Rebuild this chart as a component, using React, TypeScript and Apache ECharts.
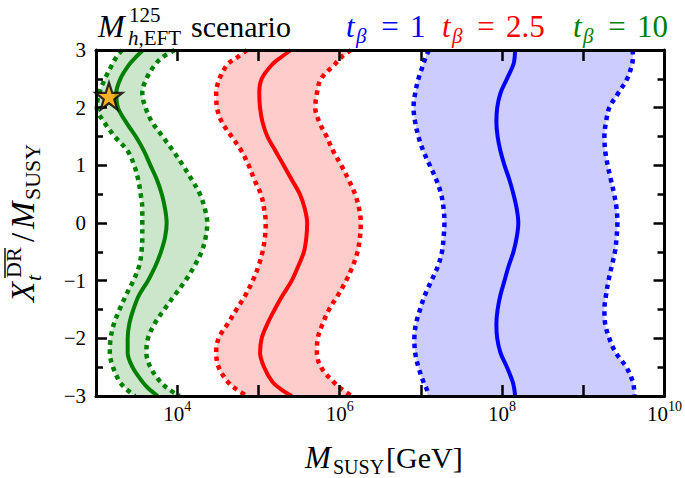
import React, { useEffect, useRef } from 'react';
import * as echarts from 'echarts';

// X_t^DR / M_SUSY sampling (y axis)
const xtValues = [3, 2.875, 2.75, 2.5, 2.25, 2, 1.75, 1.5, 1.25, 1, 0.75, 0.5, 0.25, 0, -0.25, -0.5, -0.75, -1, -1.25, -1.5, -1.75, -2, -2.25, -2.5, -2.75, -2.875, -3];

// log10(M_SUSY / GeV) for each curve
const tb1Center = [8.16, 8.155, 8.14, 8.06, 7.98, 7.94, 7.93, 7.945, 7.98, 8.03, 8.09, 8.14, 8.18, 8.2, 8.18, 8.14, 8.08, 8.03, 7.98, 7.945, 7.93, 7.94, 7.98, 8.06, 8.13, 8.15, 8.16];
const tb1Low = [7.1, 7.06, 7.03, 6.97, 6.93, 6.91, 6.93, 6.97, 7.03, 7.11, 7.19, 7.25, 7.28, 7.29, 7.28, 7.26, 7.21, 7.13, 7.05, 6.99, 6.94, 6.92, 6.93, 6.97, 7.03, 7.07, 7.1];
const tb1High = [9.61, 9.61, 9.6, 9.54, 9.43, 9.32, 9.28, 9.26, 9.27, 9.3, 9.34, 9.38, 9.41, 9.42, 9.41, 9.39, 9.35, 9.31, 9.28, 9.26, 9.27, 9.32, 9.4, 9.53, 9.61, 9.625, 9.63];

const tb25Center = [5.4, 5.28, 5.17, 5.04, 5.01, 5.02, 5.05, 5.11, 5.21, 5.31, 5.41, 5.51, 5.57, 5.6, 5.59, 5.56, 5.49, 5.41, 5.3, 5.2, 5.11, 5.04, 5.02, 5.07, 5.17, 5.27, 5.41];
const tb25Low = [4.86, 4.74, 4.62, 4.52, 4.48, 4.49, 4.55, 4.67, 4.79, 4.88, 4.95, 5.03, 5.07, 5.09, 5.08, 5.05, 5.0, 4.93, 4.84, 4.73, 4.62, 4.51, 4.48, 4.51, 4.62, 4.72, 4.86];
const tb25High = [6.14, 6.02, 5.94, 5.77, 5.72, 5.7, 5.75, 5.84, 5.92, 6.02, 6.11, 6.19, 6.24, 6.26, 6.25, 6.22, 6.16, 6.08, 5.98, 5.87, 5.79, 5.73, 5.72, 5.77, 5.92, 6.02, 6.15];

const tb10Center = [3.58, 3.49, 3.41, 3.3, 3.25, 3.27, 3.37, 3.49, 3.59, 3.67, 3.75, 3.81, 3.85, 3.87, 3.85, 3.8, 3.73, 3.64, 3.53, 3.46, 3.41, 3.39, 3.39, 3.45, 3.57, 3.65, 3.76];
const tb10Low = [3.32, 3.25, 3.2, 3.11, 3.04, 3.01, 3.1, 3.23, 3.39, 3.47, 3.52, 3.55, 3.57, 3.57, 3.57, 3.56, 3.53, 3.46, 3.37, 3.29, 3.22, 3.18, 3.17, 3.21, 3.29, 3.37, 3.48];
const tb10High = [3.97, 3.82, 3.73, 3.62, 3.57, 3.61, 3.69, 3.82, 3.95, 4.07, 4.18, 4.28, 4.34, 4.37, 4.35, 4.3, 4.21, 4.1, 3.97, 3.84, 3.72, 3.64, 3.62, 3.67, 3.79, 3.89, 4.03];

// benchmark point (log10 M_SUSY, X_t/M_SUSY)
const starPoint = [3.16, 2.2];

const legendLabels = ['1', '2.5', '10'];
const xTickExponents = [4, 6, 8, 10];

const SERIF = 'Liberation Serif';
const BLUE = '#0000ff';
const RED = '#ff0000';
const GREEN = '#008000';

const bands = [
  { low: tb1Low, mid: tb1Center, high: tb1High, line: BLUE, fill: 'rgba(0,0,255,0.2)' },
  { low: tb25Low, mid: tb25Center, high: tb25High, line: RED, fill: 'rgba(255,0,0,0.2)' },
  { low: tb10Low, mid: tb10Center, high: tb10High, line: GREEN, fill: 'rgba(0,128,0,0.2)' },
];

const toPairs = (arr: number[]) => arr.map((v, k) => [v, xtValues[k]]);

function txt(x: number, baseline: number, text: string, size: number, opts: any = {}) {
  return {
    type: 'text',
    x,
    y: baseline - 0.34 * size,
    silent: true,
    style: {
      text,
      fontSize: size,
      fontFamily: SERIF,
      fontStyle: opts.italic ? 'italic' : 'normal',
      fill: opts.color || '#000',
      align: opts.align || 'left',
      verticalAlign: 'middle',
    },
  };
}

function buildOption() {
  const series: any[] = [];
  series.push({
    type: 'custom',
    z: 1,
    clip: true,
    silent: true,
    data: bands.map((_, i) => [i]),
    renderItem: (params: any, api: any) => {
      const b = bands[params.dataIndex];
      const pts: number[][] = [];
      xtValues.forEach((y, k) => pts.push(api.coord([b.low[k], y])));
      for (let k = xtValues.length - 1; k >= 0; k--) pts.push(api.coord([b.high[k], xtValues[k]]));
      return {
        type: 'polygon',
        shape: { points: pts, smooth: 0.3 },
        style: { fill: b.fill, stroke: 'none' },
      };
    },
  });
  bands.forEach((b) => {
    [b.low, b.high].forEach((arr) => {
      series.push({
        type: 'line',
        data: toPairs(arr),
        smooth: 0.35,
        showSymbol: false,
        silent: true,
        z: 3,
        lineStyle: { color: b.line, width: 4.5, type: 'dotted', cap: 'butt' },
      });
    });
    series.push({
      type: 'line',
      data: toPairs(b.mid),
      smooth: 0.35,
      showSymbol: false,
      silent: true,
      z: 4,
      lineStyle: { color: b.line, width: 4, type: 'solid' },
    });
  });
  series.push({
    type: 'scatter',
    data: [starPoint],
    symbol: 'path://M50,0 L61.8,35.4 L99,35.4 L69,57.3 L80.4,92.7 L50,70.8 L19.6,92.7 L31,57.3 L1,35.4 L38.2,35.4 Z',
    symbolSize: 27,
    z: 30,
    clip: false,
    silent: true,
    itemStyle: { color: '#ffa500', borderColor: '#000', borderWidth: 2.2 },
  });

  const xCommon = {
    type: 'value',
    min: 3,
    max: 10,
    interval: 1,
    z: 10,
    splitLine: { show: false },
    axisLine: { show: true, onZero: false, lineStyle: { color: '#000', width: 3 } },
    axisTick: { show: true, inside: true, length: 11, lineStyle: { color: '#000', width: 2.5 } },
  };
  const yCommon = {
    type: 'value',
    min: -3,
    max: 3,
    interval: 1,
    z: 10,
    splitLine: { show: false },
    axisLine: { show: true, onZero: false, lineStyle: { color: '#000', width: 3 } },
    axisTick: { show: true, inside: true, length: 11, lineStyle: { color: '#000', width: 2.5 } },
    minorTick: { show: true, splitNumber: 2, length: 7, lineStyle: { color: '#000', width: 2.5 } },
    minorSplitLine: { show: false },
  };

  const graphic: any[] = [];
  // title
  graphic.push(txt(98, 37, 'M', 32, { italic: true }));
  graphic.push(txt(129, 22, '125', 21));
  graphic.push({
    type: 'text',
    x: 128,
    y: 45 - 0.34 * 21,
    silent: true,
    style: {
      text: '{i|h}{r|,EFT}',
      verticalAlign: 'middle',
      rich: {
        i: { fontSize: 21, fontFamily: SERIF, fontStyle: 'italic', fill: '#000' },
        r: { fontSize: 21, fontFamily: SERIF, fill: '#000' },
      },
    },
  });
  graphic.push(txt(191, 37, 'scenario', 30));
  // legend
  const legendX = [346, 442, 573];
  const legendColors = [BLUE, RED, GREEN];
  legendLabels.forEach((lab, i) => {
    const x0 = legendX[i];
    const c = legendColors[i];
    graphic.push(txt(x0, 37, 't', 31, { italic: true, color: c }));
    graphic.push(txt(x0 + 10, 43, 'β', 21, { italic: true, color: c }));
    graphic.push(txt(x0 + 44, 37, '=', 31, { color: c, align: 'center' }));
    graphic.push(txt(x0 + 64, 37, lab, 31, { color: c }));
  });
  // x axis title
  graphic.push(txt(305, 468, 'M', 31, { italic: true }));
  graphic.push(txt(333, 474, 'SUSY', 20));
  graphic.push(txt(386, 468, '[GeV]', 30));
  // y axis title (rotated)
  const ly = (baseline: number, size: number) => baseline - 0.34 * size;
  graphic.push({
    type: 'group',
    x: 34,
    y: 212,
    rotation: Math.PI / 2,
    silent: true,
    children: [
      { type: 'text', x: -90, y: ly(0, 33), style: { text: 'X', fontSize: 33, fontFamily: SERIF, fontStyle: 'italic', fill: '#000', verticalAlign: 'middle' } },
      { type: 'text', x: -66, y: ly(-13, 22), style: { text: 'DR', fontSize: 22, fontFamily: SERIF, fill: '#000', verticalAlign: 'middle' } },
      { type: 'line', shape: { x1: -66, y1: -29, x2: -36, y2: -29 }, style: { stroke: '#000', lineWidth: 1.4 } },
      { type: 'text', x: -69, y: ly(7, 22), style: { text: 't', fontSize: 22, fontFamily: SERIF, fontStyle: 'italic', fill: '#000', verticalAlign: 'middle' } },
      { type: 'text', x: -30, y: ly(0, 33), style: { text: '/', fontSize: 33, fontFamily: SERIF, fill: '#000', verticalAlign: 'middle' } },
      { type: 'text', x: -17, y: ly(0, 33), style: { text: 'M', fontSize: 33, fontFamily: SERIF, fontStyle: 'italic', fill: '#000', verticalAlign: 'middle' } },
      { type: 'text', x: 12, y: ly(6, 22), style: { text: 'SUSY', fontSize: 22, fontFamily: SERIF, fill: '#000', verticalAlign: 'middle' } },
    ],
  });

  return {
    animation: false,
    backgroundColor: '#fff',
    grid: { left: 96, right: 18, top: 50, bottom: 82, containLabel: false },
    xAxis: [
      {
        ...xCommon,
        position: 'bottom',
        axisLabel: {
          show: true,
          margin: 3,
          formatter: (v: number) => (xTickExponents.indexOf(v) >= 0 ? `{b|10}{s|${v}}` : ''),
          rich: {
            b: { fontSize: 21, fontFamily: SERIF, color: '#000' },
            s: { fontSize: 14, fontFamily: SERIF, color: '#000', padding: [0, 0, 15, 0] },
          },
        },
      },
      { ...xCommon, position: 'top', axisLabel: { show: false } },
    ],
    yAxis: [
      {
        ...yCommon,
        position: 'left',
        axisLabel: {
          show: true,
          margin: 10,
          fontSize: 21,
          fontFamily: SERIF,
          color: '#000',
          formatter: (v: number) => (v < 0 ? '\u2212' + Math.abs(v) : String(v)),
        },
      },
      { ...yCommon, position: 'right', axisLabel: { show: false } },
    ],
    series,
    graphic,
  };
}

export default function App() {
  const ref = useRef<HTMLDivElement>(null);
  useEffect(() => {
    const chart = echarts.init(ref.current as HTMLDivElement, null, { renderer: 'svg' });
    chart.setOption(buildOption() as any);
    return () => chart.dispose();
  }, []);
  return <div ref={ref} style={{ position: 'absolute', left: 0, top: 0, width: 685, height: 478 }} />;
}
